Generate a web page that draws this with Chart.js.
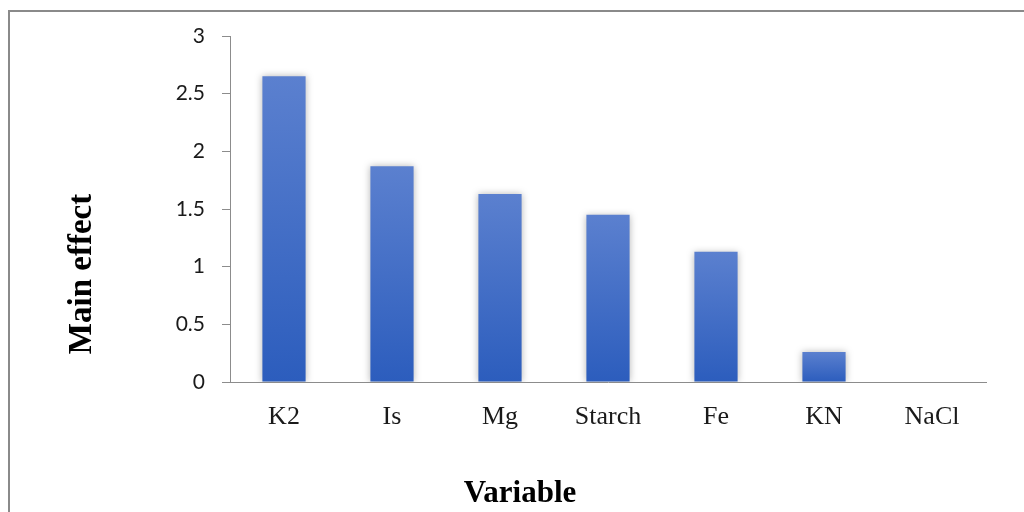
<!DOCTYPE html>
<html>
<head>
<meta charset="utf-8">
<style>
  html, body { margin: 0; padding: 0; background: #ffffff; }
  #wrap { width: 1024px; height: 512px; position: relative; }
</style>
<script src="https://cdn.jsdelivr.net/npm/chart.js@4.4.1/dist/chart.umd.min.js"></script>
</head>
<body>
<div id="wrap"><canvas id="c" width="1024" height="512"></canvas></div>
<script>
// Main effect of each medium component
const categories = ['K2', 'Is', 'Mg', 'Starch', 'Fe', 'KN', 'NaCl'];
const mainEffect = [2.65, 1.87, 1.63, 1.45, 1.13, 0.26, 0.004];
const yTicks = [0, 0.5, 1, 1.5, 2, 2.5, 3];
const xTitle = 'Variable';
const yTitle = 'Main effect';

const serif = "'Liberation Serif', 'Times New Roman', serif";

// Vertical gradient for each bar, lighter at the top
function barFill(context) {
  const chart = context.chart;
  const area = chart.chartArea;
  if (!area || context.type !== 'data') return '#4470c8';
  const yScale = chart.scales.y;
  const top = yScale.getPixelForValue(context.parsed.y);
  const bottom = yScale.getPixelForValue(0);
  const g = chart.ctx.createLinearGradient(0, top, 0, Math.max(bottom, top + 1));
  g.addColorStop(0, '#5b80cf');
  g.addColorStop(1, '#2c5dbd');
  return g;
}

// Soft shadow around the bars
const barShadow = {
  id: 'barShadow',
  beforeDatasetsDraw(chart) {
    const ctx = chart.ctx;
    ctx.save();
    ctx.shadowColor = 'rgba(0,0,0,0.28)';
    ctx.shadowBlur = 7;
    ctx.shadowOffsetX = 0;
    ctx.shadowOffsetY = 0;
  },
  afterDatasetsDraw(chart) {
    chart.ctx.restore();
  }
};

// Frame lines and axis titles, placed relative to the whole figure
const frameAndTitles = {
  id: 'frameAndTitles',
  afterDraw(chart) {
    const ctx = chart.ctx;
    ctx.save();
    ctx.strokeStyle = '#8a8a8a';
    ctx.lineWidth = 2;
    ctx.beginPath();
    ctx.moveTo(9, 512);
    ctx.lineTo(9, 11);
    ctx.lineTo(1024, 11);
    ctx.stroke();

    ctx.fillStyle = '#000000';
    ctx.textAlign = 'center';
    ctx.textBaseline = 'middle';
    ctx.font = 'bold 31px ' + serif;
    ctx.fillText(xTitle, 520, 494);

    ctx.font = 'bold 33px ' + serif;
    ctx.translate(82, 274);
    ctx.rotate(-Math.PI / 2);
    ctx.fillText(yTitle, 0, 0);
    ctx.restore();
  }
};

new Chart(document.getElementById('c'), {
  type: 'bar',
  data: {
    labels: categories,
    datasets: [{
      data: mainEffect,
      backgroundColor: barFill,
      borderWidth: 0,
      categoryPercentage: 1,
      barPercentage: 0.4
    }]
  },
  options: {
    responsive: false,
    animation: false,
    devicePixelRatio: 1,
    layout: { padding: { top: 36, right: 38, left: 0, bottom: 0 } },
    plugins: { legend: { display: false }, tooltip: { enabled: false } },
    scales: {
      x: {
        grid: { display: false, drawTicks: false },
        border: { display: true, color: '#8c8c8c', width: 1 },
        ticks: {
          color: '#1a1a1a',
          padding: 20,
          maxRotation: 0,
          font: { family: serif, size: 26 }
        },
        afterFit(scale) { scale.height = 130; }
      },
      y: {
        min: 0,
        max: 3,
        afterBuildTicks(scale) { scale.ticks = yTicks.map(v => ({ value: v })); },
        grid: { drawOnChartArea: false, drawTicks: true, tickLength: 8, color: '#8c8c8c' },
        border: { display: true, color: '#8c8c8c', width: 1 },
        ticks: {
          color: '#1a1a1a',
          padding: 17,
          callback: v => String(v),
          font: { family: "Lato, 'Open Sans', sans-serif", size: 21 }
        },
        afterFit(scale) { scale.width = 230; }
      }
    }
  },
  plugins: [barShadow, frameAndTitles]
});
</script>
</body>
</html>
